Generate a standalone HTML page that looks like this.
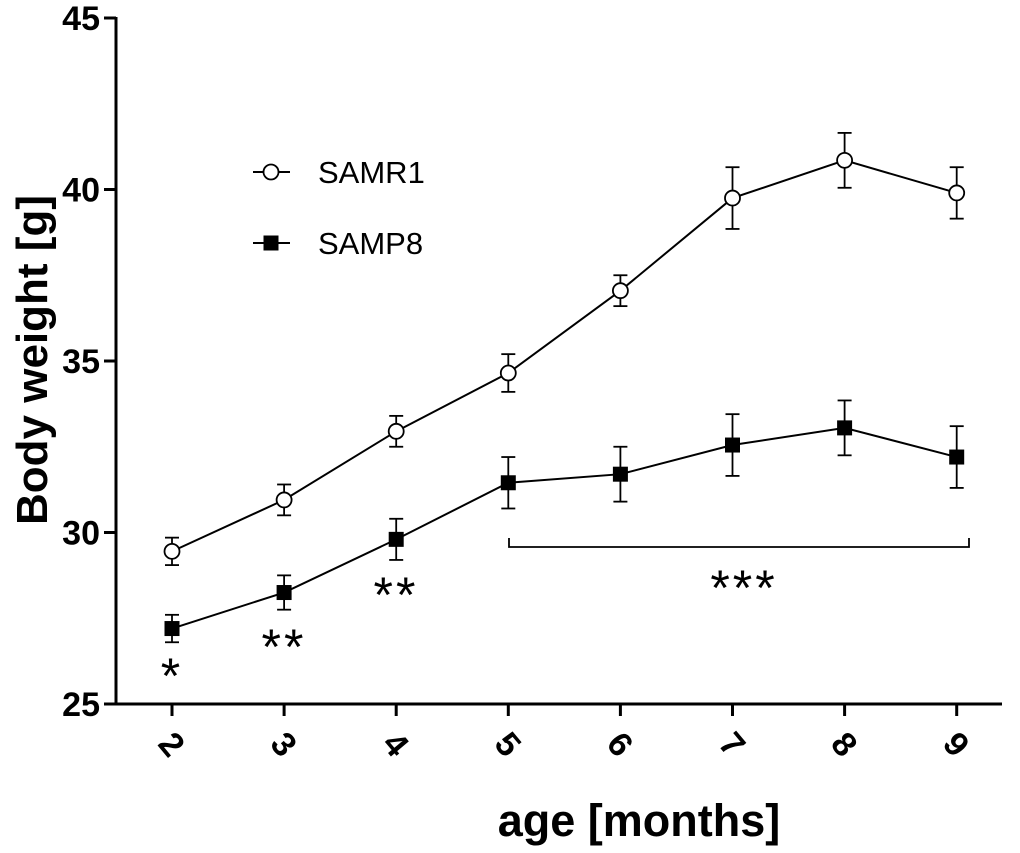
<!DOCTYPE html>
<html><head><meta charset="utf-8"><style>
body{margin:0;background:#fff;}
svg text{font-family:"Liberation Sans",Arial,sans-serif;}
</style></head><body>
<svg width="1020" height="848" viewBox="0 0 1020 848" xmlns="http://www.w3.org/2000/svg">
<g id="axes"></g>
<g id="marks"></g>
</svg>
<script>
const months = [2,3,4,5,6,7,8,9];
const samr1 = [29.45,30.95,32.95,34.65,37.05,39.75,40.85,39.9];
const samr1Err = [0.4,0.45,0.45,0.55,0.45,0.9,0.8,0.75];
const samp8 = [27.2,28.25,29.8,31.45,31.7,32.55,33.05,32.2];
const samp8Err = [0.4,0.5,0.6,0.75,0.8,0.9,0.8,0.9];
const yTicks = [25,30,35,40,45];
const NS='http://www.w3.org/2000/svg';
const x = m => 172 + (m-2)*112.1;
const y = v => 704 - (v-25)*34.3;
function mk(tag, attrs, parent, txt){const e=document.createElementNS(NS,tag);for(const k in attrs)e.setAttribute(k,attrs[k]);if(txt!==undefined)e.textContent=txt;parent.appendChild(e);return e;}
const ax=document.getElementById('axes'), mg=document.getElementById('marks');
let e;
e=mk('line',{x1:116,y1:y(45)-1,x2:116,y2:705.5,stroke:'#000','stroke-width':3},ax);


e=mk('line',{x1:114.5,y1:704,x2:1002,y2:704,stroke:'#000','stroke-width':3},ax);


yTicks.forEach(t=>{
 mk('line',{x1:104,y1:y(t),x2:116,y2:y(t),stroke:'#000','stroke-width':3},ax);
 e=mk('text',{x:100,y:y(t)+12,'text-anchor':'end','font-size':34,'font-weight':'bold'},ax,String(t));
 
 
});
months.forEach(m=>{
 mk('line',{x1:x(m),y1:704,x2:x(m),y2:716,stroke:'#000','stroke-width':3},ax);
 e=mk('text',{x:0,y:0,'text-anchor':'middle','font-size':34,'font-weight':'bold',transform:`translate(${x(m)},744) rotate(50) translate(0,12)`},ax,String(m));
 
 
});
e=mk('text',{x:0,y:0,'text-anchor':'middle','font-size':44,'font-weight':'bold',transform:'translate(47,360) rotate(-90)'},ax,'Body weight [g]');


e=mk('text',{x:639,y:836,'text-anchor':'middle','font-size':45,'font-weight':'bold'},ax,'age [months]');


function series(vals, errs, filled, name){
 const g=mk('g',{},mg);
 
 
 mk('polyline',{points:months.map((m,i)=>x(m)+','+y(vals[i])).join(' '),fill:'none',stroke:'#000','stroke-width':2},g);
 months.forEach((m,i)=>{
  const cx=x(m), t=y(vals[i]+errs[i]), b=y(vals[i]-errs[i]);
  mk('line',{x1:cx,y1:t,x2:cx,y2:b,stroke:'#000','stroke-width':1.8},g);
  mk('line',{x1:cx-7,y1:t,x2:cx+7,y2:t,stroke:'#000','stroke-width':1.8},g);
  mk('line',{x1:cx-7,y1:b,x2:cx+7,y2:b,stroke:'#000','stroke-width':1.8},g);
  let p;
  if(filled) p=mk('rect',{x:cx-7.5,y:y(vals[i])-7.5,width:15,height:15,fill:'#000'},g);
  else p=mk('circle',{cx:cx,cy:y(vals[i]),r:7.5,fill:'#fff',stroke:'#000','stroke-width':1.8},g);
  
  
 });
}
series(samr1,samr1Err,false,'samr1');
series(samp8,samp8Err,true,'samp8');
const lg=mk('g',{},mg);


mk('line',{x1:253,y1:172,x2:290,y2:172,stroke:'#000','stroke-width':2},lg);
mk('circle',{cx:271,cy:172,r:7.5,fill:'#fff',stroke:'#000','stroke-width':1.8},lg);
e=mk('text',{x:318,y:183,'font-size':31},lg,'SAMR1');


mk('line',{x1:253,y1:243,x2:290,y2:243,stroke:'#000','stroke-width':2},lg);
mk('rect',{x:263.5,y:235.5,width:15,height:15,fill:'#000'},lg);
e=mk('text',{x:318,y:254,'font-size':31},lg,'SAMP8');


e=mk('path',{d:'M509,538 V547 H969 V538',fill:'none',stroke:'#000','stroke-width':1.8},mg);


[[172,693,'*'],[284,664,'**'],[396,612,'**'],[744,605,'***']].forEach(s=>{
 e=mk('text',{x:s[0],y:s[1],'text-anchor':'middle','font-size':50,'letter-spacing':3},mg,s[2]);
 
 
});
</script>
</body></html>
